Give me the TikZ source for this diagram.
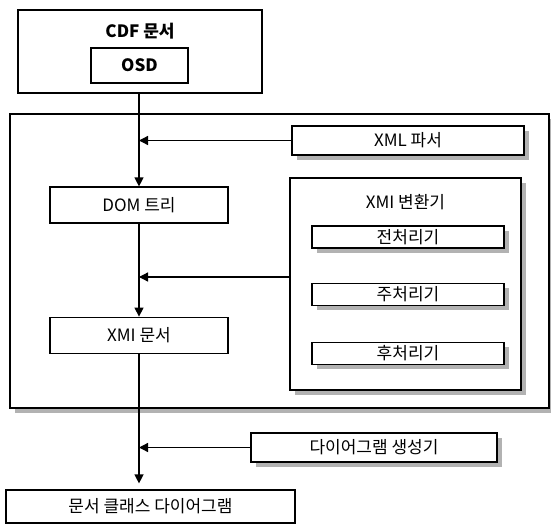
\documentclass[tikz,border=0pt]{standalone}
\usepackage{fontspec}
\setmainfont{Noto Sans CJK KR}
\usetikzlibrary{positioning,arrows.meta,shadows,calc}

\newcommand\lblsize{\fontsize{17}{20}\selectfont}

\begin{document}
\begin{tikzpicture}[
    x=1pt, y=-1pt,
    box/.style={draw, line width=1.2pt, fill=white, inner sep=0pt, font=\lblsize},
    shadowbox/.style={box, drop shadow={shadow xshift=5pt, shadow yshift=-5pt, fill=gray!60, opacity=1}},
    arrow/.style={-{Triangle[length=9pt,width=9pt]}, line width=1.3pt}
]
\useasboundingbox (0,0) rectangle (551,530);

% input document
\node[box, minimum width=244pt, minimum height=83pt] (cdf) at (140,51.5) {};
\node[font=\lblsize\bfseries] (cdftitle) at (140,31) {CDF 문서};
\node[box, font=\lblsize\bfseries, minimum width=97pt, minimum height=35pt] (osd) at (139.5,65.5) {OSD};

% frame round the conversion
\node[shadowbox, minimum width=539pt, minimum height=294pt] (outer) at (279.5,261) {};

\node[shadowbox, minimum width=232pt, minimum height=29pt] (xmlp) at (408,140.5) {XML 파서};
\node[shadowbox, minimum width=231pt, minimum height=212pt] (conv) at (405.5,284) {};
\node[font=\lblsize] (convtitle) at (405.5,202) {XMI 변환기};
\node[shadowbox, minimum width=192pt, minimum height=22pt] (pre) at (408,237) {전처리기};
\node[shadowbox, minimum width=192pt, minimum height=22pt, below=34pt of pre] (mainp) {주처리기};
\node[shadowbox, minimum width=192pt, minimum height=22pt, below=36pt of mainp] (post) {후처리기};

\node[box, minimum width=178pt, minimum height=36pt] (dom) at (139,205) {DOM 트리};
\node[box, minimum width=178pt, minimum height=36pt, below=93pt of dom] (xmidoc) {XMI 문서};

% output
\node[shadowbox, minimum width=246pt, minimum height=29pt] (diaggen) at (374,447.5) {다이어그램 생성기};
\node[box, minimum width=289pt, minimum height=33pt] (final) at (150.5,506.5) {문서 클래스 다이어그램};

\coordinate (convin) at ($(conv.west)+(0,-7)$);

\draw[arrow] (cdf.south -| dom.north) -- (dom.north);
\draw[arrow] (dom) -- (xmidoc);
\draw[arrow, shorten >=6pt] (xmidoc.south) -- (xmidoc.south |- final.north);
\draw[arrow] (xmlp.west) -- (xmlp.west -| dom.north);
\draw[arrow] (convin) -- (convin -| dom.north);
\draw[arrow] (diaggen.west) -- (diaggen.west -| dom.north);
\end{tikzpicture}
\end{document}
